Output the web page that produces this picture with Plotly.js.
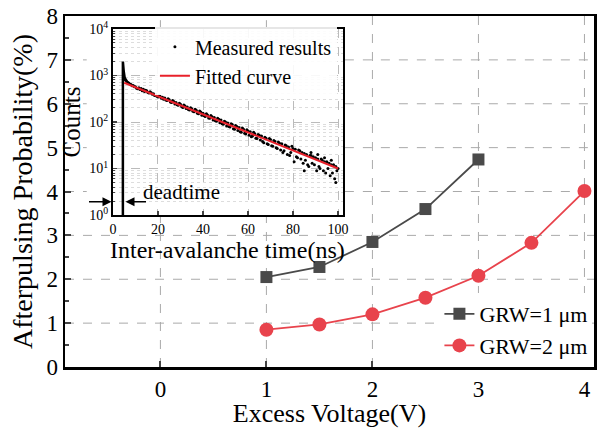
<!DOCTYPE html>
<html><head><meta charset="utf-8">
<script src="https://cdn.plot.ly/plotly-3.0.1.min.js"></script>
<style>html,body{margin:0;padding:0;background:#fff}#chart{width:601px;height:428px}</style>
</head><body><div id="chart"></div>
<script>
// Main chart data
const voltage1 = [1, 1.5, 2, 2.5, 3];
const grw1 = [2.05, 2.28, 2.85, 3.6, 4.73];
const voltage2 = [1, 1.5, 2, 2.5, 3, 3.5, 4];
const grw2 = [0.85, 0.97, 1.2, 1.58, 2.08, 2.83, 4.01];
const xTicks = [0, 1, 2, 3, 4];
const yTicks = [1, 2, 3, 4, 5, 6, 7];

// Inset data
const measT = [5.5,6,6.5,7,7.5,8,8.5,9,9.5,10,10.5,11,11.5,12,12.5,13,13.5,14,14.5,15,15.5,16,16.5,17,17.5,18,18.5,19,19.5,20,20.5,21,21.5,22,22.5,23,23.5,24,24.5,25,25.5,26,26.5,27,27.5,28,28.5,29,29.5,30,30.5,31,31.5,32,32.5,33,33.5,34,34.5,35,35.5,36,36.5,37,37.5,38,38.5,39,39.5,40,40.5,41,41.5,42,42.5,43,43.5,44,44.5,45,45.5,46,46.5,47,47.5,48,48.5,49,49.5,50,50.5,51,51.5,52,52.5,53,53.5,54,54.5,55,55.5,56,56.5,57,57.5,58,58.5,59,59.5,60,60.5,61,61.5,62,62.5,63,63.5,64,64.5,65,65.5,66,66.5,67,67.5,68,68.5,69,69.5,70,70.5,71,71.5,72,72.5,73,73.5,74,74.5,75,75.5,76,76.5,77,77.5,78,78.5,79,79.5,80,80.5,81,81.5,82,82.5,83,83.5,84,84.5,85,85.5,86,86.5,87,87.5,88,88.5,89,89.5,90,90.5,91,91.5,92,92.5,93,93.5,94,94.5,95,95.5,96,96.5,97,97.5,98,98.5,99,99.5,100,85,88,97,99,91,94];
const measC = [800,760,720,690,660,640,600,610,570,575,530,520,545,500,525,470,505,455,480,470,430,420,445,425,395,405,370,390,360,345,372,355,325,340,310,330,296,290,318,300,270,262,290,275,245,262,236,228,252,240,215,205,232,220,195,210,186,182,203,192,170,166,188,178,155,150,172,165,140,155,136,132,150,142,122,120,138,130,110,125,106,104,120,114,96,110,92,90,104,100,82,95,80,78,92,88,72,70,84,80,66,76,62,60,74,70,57,55,68,64,52,62,48,50,60,56,45,44,54,52,41,50,38,36,47,45,34,33,44,42,31,30,40,38,28,27,37,35,25,34,22,24,32,31,20,29,19,22,30,27,14,26,18,17,25,24,16,22,13,21,15,20,12,11,19,19,13,18,12,17,9,16,11,10,16,15,9,14,8,14,10,13,7,12,8,12,6,11,9,10,9,22,15,5,20,17];
const spikeT = [4.4, 4.4, 4.8, 5.2, 5.8];
const spikeC = [1, 2000, 1200, 900, 790];
const fitT = [5, 20, 40, 60, 80, 100];
const fitC = [700, 358, 147, 60, 24.6, 10];
const insetXTicks = [0, 20, 40, 60, 80, 100];
const insetYTicks = [1, 10, 100, 1000, 10000];
const insetYLabels = ['10<sup>0</sup>','10<sup>1</sup>','10<sup>2</sup>','10<sup>3</sup>','10<sup>4</sup>'];

const minorLog = [];
for (let d = 1; d <= 1000; d *= 10) for (let k = 2; k <= 9; k++) minorLog.push(k * d);

const serif = 'Liberation Serif';
const gray = '#4a4a4a', red = '#e8434c';

// main axis ranges and the white area occupied by the inset (main data units)
const xRange = [-0.9, 4.09], yRange = [0, 8];
const hole = {x0: -0.695, x1: 1.74, y0: 3.46, y1: 7.7};
const gridStyle = {color: '#aaaaaa', width: 1, dash: 'dash'};
const gridShapes = [];
xTicks.forEach(v => {
  const segs = (v > hole.x0 && v < hole.x1) ? [[yRange[0], hole.y0], [hole.y1, yRange[1]]] : [yRange];
  segs.forEach(s => gridShapes.push({type: 'line', xref: 'x', yref: 'y', x0: v, x1: v, y0: s[0], y1: s[1], layer: 'below', line: gridStyle}));
});
yTicks.forEach(v => {
  const segs = (v > hole.y0 && v < hole.y1) ? [[xRange[0], hole.x0], [hole.x1, xRange[1]]] : [xRange];
  segs.forEach(s => gridShapes.push({type: 'line', xref: 'x', yref: 'y', y0: v, y1: v, x0: s[0], x1: s[1], layer: 'below', line: gridStyle}));
});

const traces = [
  {x: voltage1, y: grw1, type: 'scatter', mode: 'lines+markers', name: 'GRW=1 μm',
   line: {color: gray, width: 1.8}, marker: {symbol: 'square', size: 12, color: gray}, xaxis: 'x', yaxis: 'y'},
  {x: voltage2, y: grw2, type: 'scatter', mode: 'lines+markers', name: 'GRW=2 μm',
   line: {color: red, width: 1.8}, marker: {symbol: 'circle', size: 14, color: red}, xaxis: 'x', yaxis: 'y'},
  {x: spikeT, y: spikeC, type: 'scatter', mode: 'lines', showlegend: false,
   line: {color: '#000', width: 2.5}, xaxis: 'x2', yaxis: 'y2'},
  {x: measT, y: measC, type: 'scatter', mode: 'markers', name: 'Measured results', legend: 'legend2',
   marker: {color: '#000', size: 3}, xaxis: 'x2', yaxis: 'y2'},
  {x: fitT, y: fitC, type: 'scatter', mode: 'lines', name: 'Fitted curve', legend: 'legend2',
   line: {color: '#e8202a', width: 2}, xaxis: 'x2', yaxis: 'y2'}
];

const layout = {
  width: 601, height: 428,
  margin: {l: 65, r: 7, t: 16, b: 61},
  paper_bgcolor: '#fff', plot_bgcolor: '#fff',
  font: {family: serif, color: '#000'},
  showlegend: true,
  xaxis: {
    range: xRange, tickvals: xTicks, ticks: 'inside', ticklen: 6, tickwidth: 2,
    showline: true, linewidth: 2.5, linecolor: '#000', mirror: true, zeroline: false,
    showgrid: false,
    tickfont: {size: 23, family: serif},
    title: {text: 'Excess Voltage(V)', font: {size: 26, family: serif}, standoff: 0}
  },
  yaxis: {
    range: yRange, dtick: 1, ticks: 'inside', ticklen: 6, tickwidth: 2,
    showline: true, linewidth: 2.5, linecolor: '#000', mirror: true, zeroline: false,
    showgrid: false,
    minor: {dtick: 0.5, ticks: 'inside', ticklen: 4, tickwidth: 2, showgrid: false},
    tickfont: {size: 23, family: serif},
    title: {text: 'Afterpulsing Probability(%)', font: {size: 28, family: serif}, standoff: 6}
  },
  xaxis2: {
    domain: [0.0907, 0.5255], anchor: 'y2', range: [0, 102.2], tickvals: insetXTicks,
    ticks: 'inside', ticklen: 4, tickwidth: 1.5,
    showline: true, linewidth: 2, linecolor: '#000', mirror: true, zeroline: false,
    showgrid: true, gridcolor: '#bbbbbb', griddash: 'dash', gridwidth: 1,
    tickfont: {size: 14, family: serif}
  },
  yaxis2: {
    domain: [0.433, 0.963], anchor: 'x2', type: 'log', range: [0, 4],
    tickvals: insetYTicks, ticktext: insetYLabels,
    ticks: 'inside', ticklen: 4, tickwidth: 1.5,
    showline: true, linewidth: 2, linecolor: '#000', mirror: true, zeroline: false,
    showgrid: true, gridcolor: '#bbbbbb', griddash: 'dash', gridwidth: 1,
    minor: {tickmode: 'array', tickvals: minorLog, ticks: 'inside', ticklen: 2.5, tickwidth: 1,
            showgrid: true, gridcolor: '#dddddd', griddash: 'dot', gridwidth: 1},
    tickfont: {size: 14, family: serif},
    title: {text: 'Counts', font: {size: 25, family: serif}, standoff: 2}
  },
  legend: {
    x: 0.997, xanchor: 'right', y: 0.0, yanchor: 'bottom',
    bgcolor: '#fff', borderwidth: 0, font: {size: 22, family: serif}, tracegroupgap: 0
  },
  legend2: {
    x: 0.17, xanchor: 'left', y: 0.968, yanchor: 'top',
    bgcolor: 'rgba(255,255,255,0.9)', borderwidth: 0, font: {size: 20, family: serif}, tracegroupgap: 0
  },
  shapes: gridShapes,
  annotations: [
    {xref: 'paper', yref: 'paper', x: 0.308, y: 0.332, xanchor: 'center', yanchor: 'middle',
     text: 'Inter-avalanche time(ns)', showarrow: false, borderpad: 0,
     font: {size: 24, family: serif, color: '#000'}},
    {xref: 'paper', yref: 'paper', x: 0.0879, y: 0.471, ax: -24, ay: 0, text: '', showarrow: true,
     arrowhead: 2, arrowsize: 1.2, arrowwidth: 1.5, arrowcolor: '#000'},
    {xref: 'paper', yref: 'paper', x: 0.1144, y: 0.471, ax: 22, ay: 0, text: '', showarrow: true,
     arrowhead: 2, arrowsize: 1.2, arrowwidth: 1.5, arrowcolor: '#000'},
    {xref: 'paper', yref: 'paper', x: 0.221, y: 0.4986, xanchor: 'center', yanchor: 'middle',
     text: 'deadtime', showarrow: false, font: {size: 21, family: serif, color: '#000'}}
  ]
};

Plotly.newPlot('chart', traces, layout, {displayModeBar: false, staticPlot: true});
</script>
</body></html>
